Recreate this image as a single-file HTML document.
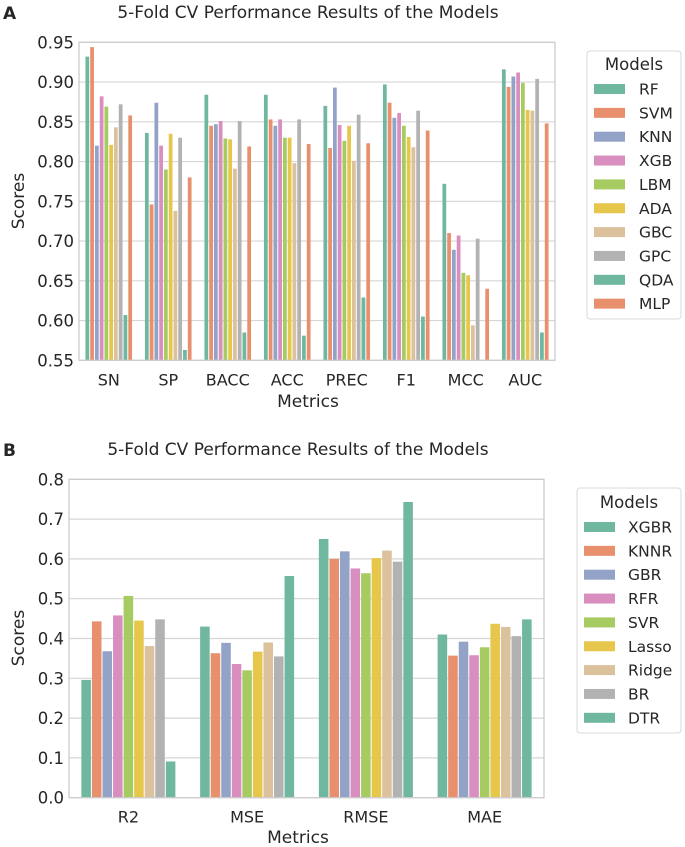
<!DOCTYPE html>
<html><head><meta charset="utf-8"><style>
body{margin:0;background:#fff;font-family:"Liberation Sans","DejaVu Sans",sans-serif}
svg{display:block}
text{font-family:"DejaVu Sans","Liberation Sans",sans-serif;fill:#262626}
</style></head><body>
<svg id="s" width="685" height="847" viewBox="0 0 685 847"></svg>
<script>
const colors=['#6fb89f','#e8906e','#93a2c7','#d88fbf','#a5cb61','#e6c64b','#dbc19c','#b2b2b2'];
const catsA=['SN','SP','BACC','ACC','PREC','F1','MCC','AUC'];
const modelsA=['RF','SVM','KNN','XGB','LBM','ADA','GBC','GPC','QDA','MLP'];
const valsA=[
[0.932,0.944,0.820,0.882,0.869,0.821,0.843,0.872,0.607,0.858],
[0.836,0.746,0.874,0.820,0.790,0.835,0.738,0.830,0.563,0.780],
[0.884,0.845,0.847,0.851,0.829,0.828,0.791,0.851,0.585,0.819],
[0.884,0.853,0.845,0.853,0.830,0.830,0.798,0.853,0.581,0.822],
[0.870,0.817,0.893,0.846,0.826,0.845,0.801,0.859,0.629,0.823],
[0.897,0.874,0.855,0.861,0.845,0.831,0.818,0.864,0.605,0.839],
[0.772,0.710,0.689,0.707,0.660,0.657,0.594,0.703,0.540,0.640],
[0.916,0.894,0.907,0.912,0.899,0.865,0.864,0.904,0.585,0.848]];
const ticksA=['0.55','0.60','0.65','0.70','0.75','0.80','0.85','0.90','0.95'];
const catsB=['R2','MSE','RMSE','MAE'];
const modelsB=['XGBR','KNNR','GBR','RFR','SVR','Lasso','Ridge','BR','DTR'];
const valsB=[
[0.296,0.443,0.368,0.458,0.507,0.445,0.381,0.448,0.091],
[0.430,0.363,0.389,0.336,0.320,0.367,0.390,0.355,0.557],
[0.650,0.600,0.619,0.576,0.564,0.602,0.621,0.593,0.743],
[0.410,0.357,0.392,0.358,0.378,0.437,0.429,0.406,0.448]];
const ticksB=['0.0','0.1','0.2','0.3','0.4','0.5','0.6','0.7','0.8'];

const S=document.getElementById('s');const NS='http://www.w3.org/2000/svg';
function mk(tag,at,txt){const e=document.createElementNS(NS,tag);for(const k in at)e.setAttribute(k,at[k]);if(txt!=null)e.textContent=txt;S.appendChild(e);return e;}
function chart(o){
  const {x0,x1,yTop,yBot,vmin,vmax,cats,models,vals,ticks,pfx}=o;
  const y=v=>yBot-(Math.max(v,vmin)-vmin)/(vmax-vmin)*(yBot-yTop);
  const gw=(x1-x0)/cats.length;
  ticks.forEach(t=>{const yy=y(parseFloat(t));
    const g=mk('line',{x1:x0,x2:x1,y1:yy,y2:yy,stroke:'#d6d6d6','stroke-width':1.2});
    
    const tl=mk('text',{x:x0-5,y:yy+6,'text-anchor':'end','font-size':16.5},t);
    });
  const n=models.length,bw=gw*0.8/n;
  cats.forEach((c,i)=>{const cx=x0+gw*(i+0.5);
    models.forEach((m,j)=>{const v=vals[i][j];if(v<=vmin)return;
      const bx=cx-gw*0.4+j*bw,by=y(v);
      const r=mk('rect',{x:bx+0.5,y:by,width:Math.max(bw-1,1),height:yBot-by,fill:colors[j%8]});
      
      });
    const l=mk('text',{x:cx,y:yBot+25,'text-anchor':'middle','font-size':16},c);
    });
  const fr=mk('rect',{x:x0,y:yTop,width:x1-x0,height:yBot-yTop,fill:'none',stroke:'#cccccc','stroke-width':1.3});
  
  const L=o.leg;
  const lb=mk('rect',{x:L.x,y:L.y,width:L.w,height:L.h,rx:3,fill:'#fff',stroke:'#d9d9d9'});
  
  const lt=mk('text',{x:L.x+L.w/2,y:L.ty+6,'text-anchor':'middle','font-size':16.5},'Models');
  
  models.forEach((m,j)=>{const yy=L.ey+j*23.85;
    const sw=mk('rect',{x:L.x+7,y:yy-5,width:31,height:10,fill:colors[j%8]});
    
    const t=mk('text',{x:L.x+L.tx,y:yy+5.5,'font-size':15.5},m);
    });
}
chart({x0:79,x1:555,yTop:42.3,yBot:360.3,vmin:0.55,vmax:0.95,cats:catsA,models:modelsA,vals:valsA,ticks:ticksA,pfx:'a',
  leg:{x:587,y:51,w:94,h:268,ty:64,ey:89,tx:52}});
chart({x0:69,x1:544,yTop:479.3,yBot:797.7,vmin:0,vmax:0.8,cats:catsB,models:modelsB,vals:valsB,ticks:ticksB,pfx:'b',
  leg:{x:577,y:488,w:104,h:245,ty:502,ey:527,tx:51}});
function T(at,txt,name){const e=mk('text',at,txt);}
T({x:3,y:19,'font-size':17,'font-weight':'bold','font-family':'Liberation Sans'},'A','panel-a-label');
T({x:308,y:18,'text-anchor':'middle','font-size':17},'5-Fold CV Performance Results of the Models','a-chart-title');
T({x:24,y:201,'text-anchor':'middle','font-size':17,transform:'rotate(-90 24 201)'},'Scores','a-y-axis-title');
T({x:308,y:407,'text-anchor':'middle','font-size':17},'Metrics','a-x-axis-title');
T({x:3,y:456,'font-size':17,'font-weight':'bold','font-family':'Liberation Sans'},'B','panel-b-label');
T({x:298,y:455,'text-anchor':'middle','font-size':17},'5-Fold CV Performance Results of the Models','b-chart-title');
T({x:24,y:638,'text-anchor':'middle','font-size':17,transform:'rotate(-90 24 638)'},'Scores','b-y-axis-title');
T({x:298,y:843,'text-anchor':'middle','font-size':17},'Metrics','b-x-axis-title');
</script>
</body></html>
